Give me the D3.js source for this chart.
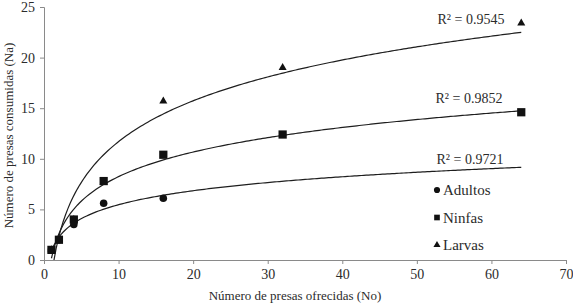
<!DOCTYPE html>
<html>
<head>
<meta charset="utf-8">
<script src="https://cdn.jsdelivr.net/npm/d3@7"></script>
<style>
  html, body { margin: 0; padding: 0; background: #fff; }
  svg { display: block; }
  svg text { font-family: 'Liberation Serif', 'DejaVu Serif', serif; }
</style>
</head>
<body>
<div id="chart"></div>
<script>
// prey offered (No)
const offered = [1, 2, 4, 8, 16, 32, 64]

// prey consumed (Na) per stage
const adultos = [1, 2, 3.5, 5.6, 6.1]
const ninfas = [1, 2, 4, 7.8, 10.4, 12.4, 14.6]
const larvas = [1, 2, 4, 7.7, 15.7, 19, 23.4]

const seriesNames = ['Adultos', 'Ninfas', 'Larvas']
const seriesValues = [adultos, ninfas, larvas]
const seriesSymbols = [d3.symbolCircle, d3.symbolSquare, d3.symbolTriangle]
const r2Labels = ['R² = 0.9721', 'R² = 0.9852', 'R² = 0.9545']

const xTicks = [0, 10, 20, 30, 40, 50, 60, 70]
const yTicks = [0, 5, 10, 15, 20, 25]

const xTitle = 'Número de presas ofrecidas (No)'
const yTitle = 'Número de presas consumidas (Na)'

const width = 573
const height = 305
const margin = { top: 7, right: 7, bottom: 45, left: 44 }
const serif = "'Liberation Serif', 'DejaVu Serif', serif"

const svg = d3.select('#chart')
  .append('svg')
  .attr('width', width)
  .attr('height', height)

const x = d3.scaleLinear().domain([0, 70]).range([margin.left, width - margin.right])
const y = d3.scaleLinear().domain([0, 25]).range([height - margin.bottom, margin.top])

const axisColor = '#8a8a8a'
const textColor = '#2b2b2b'

// clip for the trend lines
svg.append('clipPath')
  .attr('id', 'plot')
  .append('rect')
  .attr('x', x(0))
  .attr('y', y(25))
  .attr('width', x(70) - x(0))
  .attr('height', y(0) - y(25))

// X axis
const gx = svg.append('g')
  .attr('transform', `translate(0,${y(0)})`)
  .call(d3.axisBottom(x).tickValues(xTicks).tickSize(4).tickPadding(5))
gx.attr('font-family', serif)
gx.select('.domain').attr('stroke', axisColor)
gx.selectAll('line').attr('stroke', axisColor)
gx.selectAll('text')
  .attr('fill', textColor)
  .style('font-size', '14px')

// Y axis
const gy = svg.append('g')
  .attr('transform', `translate(${x(0)},0)`)
  .call(d3.axisLeft(y).tickValues(yTicks).tickSize(4).tickPadding(5))
gy.attr('font-family', serif)
gy.select('.domain').attr('stroke', axisColor)
gy.selectAll('line').attr('stroke', axisColor)
gy.selectAll('text')
  .attr('fill', textColor)
  .style('font-size', '14px')

// Axis titles
svg.append('text')
  .attr('x', 295)
  .attr('y', 300)
  .attr('text-anchor', 'middle')
  .attr('fill', textColor)
  .style('font-size', '13px')
  .text(xTitle)

svg.append('text')
  .attr('transform', `translate(13,${(y(0) + y(25)) / 2 + 2}) rotate(-90)`)
  .attr('text-anchor', 'middle')
  .attr('fill', textColor)
  .style('font-size', '13px')
  .text(yTitle)

// Logarithmic trend line: Na = a ln(No) + b, least squares
function logFit (xs, ys) {
  const lx = xs.map(Math.log)
  const mx = d3.mean(lx)
  const my = d3.mean(ys)
  let sxy = 0
  let sxx = 0
  lx.forEach((v, i) => {
    sxy += (v - mx) * (ys[i] - my)
    sxx += (v - mx) * (v - mx)
  })
  const a = sxy / sxx
  return { a, b: my - a * mx }
}

const line = d3.line()
  .x(d => x(d[0]))
  .y(d => y(d[1]))

const trendGroup = svg.append('g').attr('clip-path', 'url(#plot)')
const labelPos = [[470, 164], [469, 103], [471, 24]]
const xMin = d3.min(offered)
const xMax = d3.max(offered)

seriesValues.forEach((vals, i) => {
  const fit = logFit(offered.slice(0, vals.length), vals)
  const pts = d3.range(0, 201).map(k => {
    const xv = xMin + (xMax - xMin) * k / 200
    return [xv, fit.a * Math.log(xv) + fit.b]
  })
  trendGroup.append('path')
    .attr('d', line(pts))
    .attr('fill', 'none')
    .attr('stroke', '#1e1e1e')
    .attr('stroke-width', 1.2)

  svg.append('text')
    .attr('x', labelPos[i][0])
    .attr('y', labelPos[i][1])
    .attr('text-anchor', 'middle')
    .attr('fill', textColor)
    .style('font-size', '14px')
    .text(r2Labels[i])
})

// Markers (drawn last series first so circles sit on top)
const markerSize = [45, 68, 28]
d3.range(seriesValues.length - 1, -1, -1).forEach(i => {
  svg.append('g')
    .selectAll('path')
    .data(seriesValues[i])
    .join('path')
    .attr('transform', (d, k) => `translate(${x(offered[k])},${y(d)})`)
    .attr('d', d3.symbol().type(seriesSymbols[i]).size(markerSize[i]))
    .attr('fill', '#111')
})

// Legend
const legendSize = [30, 32, 22]
const legend = svg.append('g').attr('transform', 'translate(437,190)')
seriesNames.forEach((name, i) => {
  const g = legend.append('g').attr('transform', `translate(0,${i * 27.5})`)
  g.append('path')
    .attr('d', d3.symbol().type(seriesSymbols[i]).size(legendSize[i]))
    .attr('fill', '#111')
  g.append('text')
    .attr('x', 6)
    .attr('y', 5)
    .attr('fill', textColor)
    .style('font-size', '15px')
    .text(name)
})
</script>
</body>
</html>
